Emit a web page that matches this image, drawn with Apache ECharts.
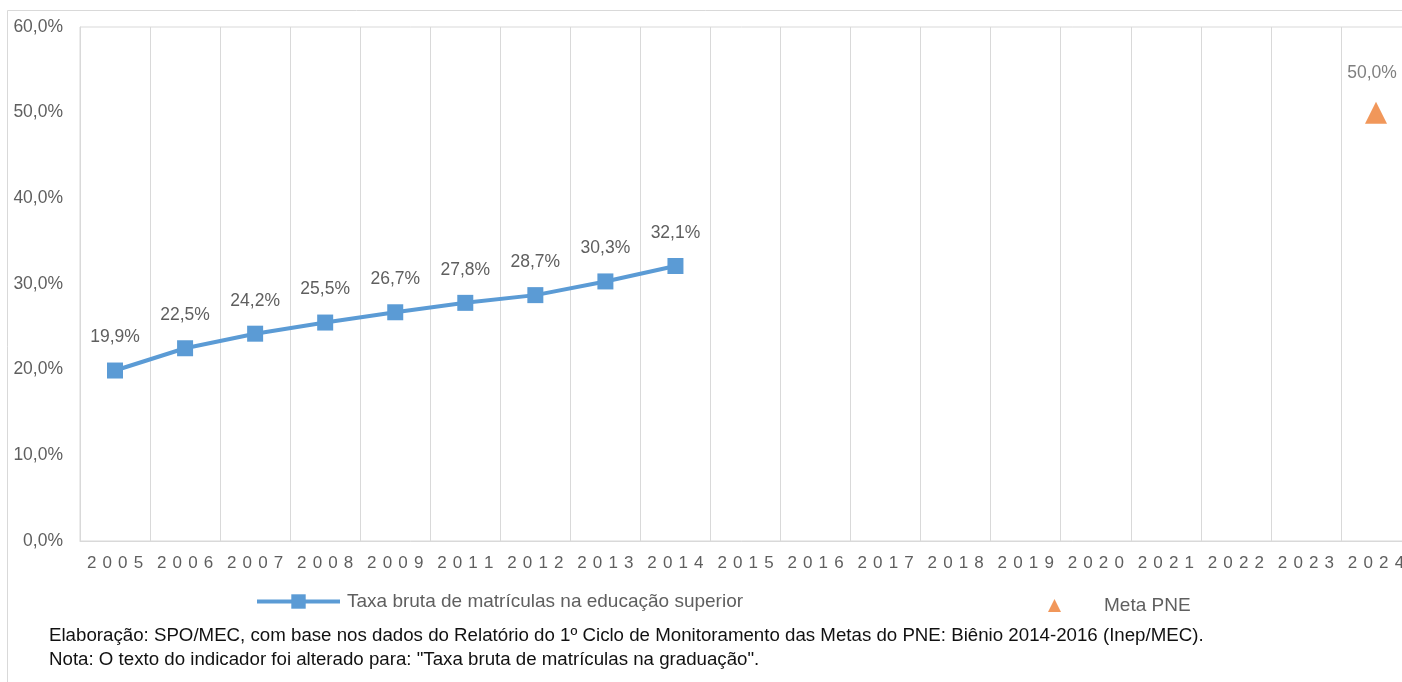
<!DOCTYPE html>
<html>
<head>
<meta charset="utf-8">
<script src="https://cdn.jsdelivr.net/npm/echarts@6/dist/echarts.min.js"></script>
<style>
  html, body { margin: 0; padding: 0; background: #fff; }
  #chart { width: 1402px; height: 682px; }
</style>
</head>
<body>
<div id="chart"></div>
<script>
// data
let years = ['2005', '2006', '2007', '2008', '2009', '2011', '2012', '2013', '2014', '2015',
    '2016', '2017', '2018', '2019', '2020', '2021', '2022', '2023', '2024'];
let taxaBruta = [19.9, 22.5, 24.2, 25.5, 26.7, 27.8, 28.7, 30.3, 32.1];
let metaPne = [null, null, null, null, null, null, null, null, null, null,
    null, null, null, null, null, null, null, null, 50.0];
let yTicks = [0, 10, 20, 30, 40, 50, 60];

let gray = '#5f5f5f';
let fmtPct = v => v.toFixed(1).replace('.', ',') + '%';

let chart = echarts.init(document.getElementById('chart'));
let option = {
    animation: false,
    textStyle: { fontFamily: 'Liberation Sans, Arial, sans-serif' },
    graphic: [{
        type: 'rect',
        shape: { x: 7.5, y: 10.5, width: 1420, height: 700 },
        style: { fill: 'none', stroke: '#d9d9d9', lineWidth: 1 },
        z: -1
    }, {
        type: 'text',
        left: 49, top: 624,
        style: {
            text: 'Elaboração: SPO/MEC, com base nos dados do Relatório do 1º Ciclo de Monitoramento das Metas do PNE: Biênio 2014-2016 (Inep/MEC).\nNota: O texto do indicador foi alterado para: "Taxa bruta de matrículas na graduação".',
            fill: '#111',
            font: '18.7px "Liberation Sans", Arial, sans-serif',
            lineHeight: 24
        }
    }],
    grid: {
        left: 80, right: -9, top: 27, bottom: 141,
        outerBoundsMode: 'none', containLabel: false,
        show: true, borderColor: '#d9d9d9', borderWidth: 1
    },
    legend: [{
        data: [{ name: 'Taxa bruta de matrículas na educação superior' }],
        left: 250, top: 587,
        itemWidth: 83, itemHeight: 18,
        itemGap: 0,
        lineStyle: { width: 4 },
        textStyle: { color: gray, fontSize: 19, padding: [0, 0, 0, 2] }
    }, {
        data: [{ name: 'Meta PNE', icon: 'triangle' }],
        left: 1043, top: 591,
        itemWidth: 13, itemHeight: 13,
        textStyle: { color: gray, fontSize: 19, padding: [0, 0, 0, 38] }
    }],
    xAxis: {
        type: 'category',
        data: years,
        boundaryGap: true,
        axisLine: { lineStyle: { color: '#d9d9d9' } },
        axisTick: { show: false },
        splitLine: { show: true, lineStyle: { color: '#d9d9d9', width: 1 } },
        axisLabel: {
            color: gray, fontSize: 17, margin: 14, interval: 0,
            formatter: v => v.split('').join(' \u200A')
        }
    },
    yAxis: {
        type: 'value',
        min: yTicks[0], max: yTicks[yTicks.length - 1], interval: 10,
        axisLine: { show: true, lineStyle: { color: '#d9d9d9' } },
        axisTick: { show: false },
        splitLine: { show: false },
        axisLabel: { color: gray, fontSize: 17.5, margin: 17, formatter: v => fmtPct(v) }
    },
    series: [{
        name: 'Taxa bruta de matrículas na educação superior',
        type: 'line',
        data: taxaBruta,
        symbol: 'rect',
        symbolSize: 16,
        lineStyle: { color: '#5b9bd5', width: 4 },
        itemStyle: { color: '#5b9bd5' },
        label: {
            show: true, position: 'top', distance: 16,
            color: gray, fontSize: 17.5,
            formatter: p => fmtPct(p.value)
        }
    }, {
        name: 'Meta PNE',
        type: 'scatter',
        data: metaPne,
        symbol: 'triangle',
        symbolSize: 22,
        itemStyle: { color: '#ed7d31' },
        label: {
            show: true, position: 'top', distance: 19, offset: [-4, 0],
            color: gray, fontSize: 17.5,
            formatter: p => fmtPct(p.value)
        }
    }]
};
chart.setOption(option, true);

window.onresize = () => {
    chart.resize();
};
</script>
</body>
</html>
